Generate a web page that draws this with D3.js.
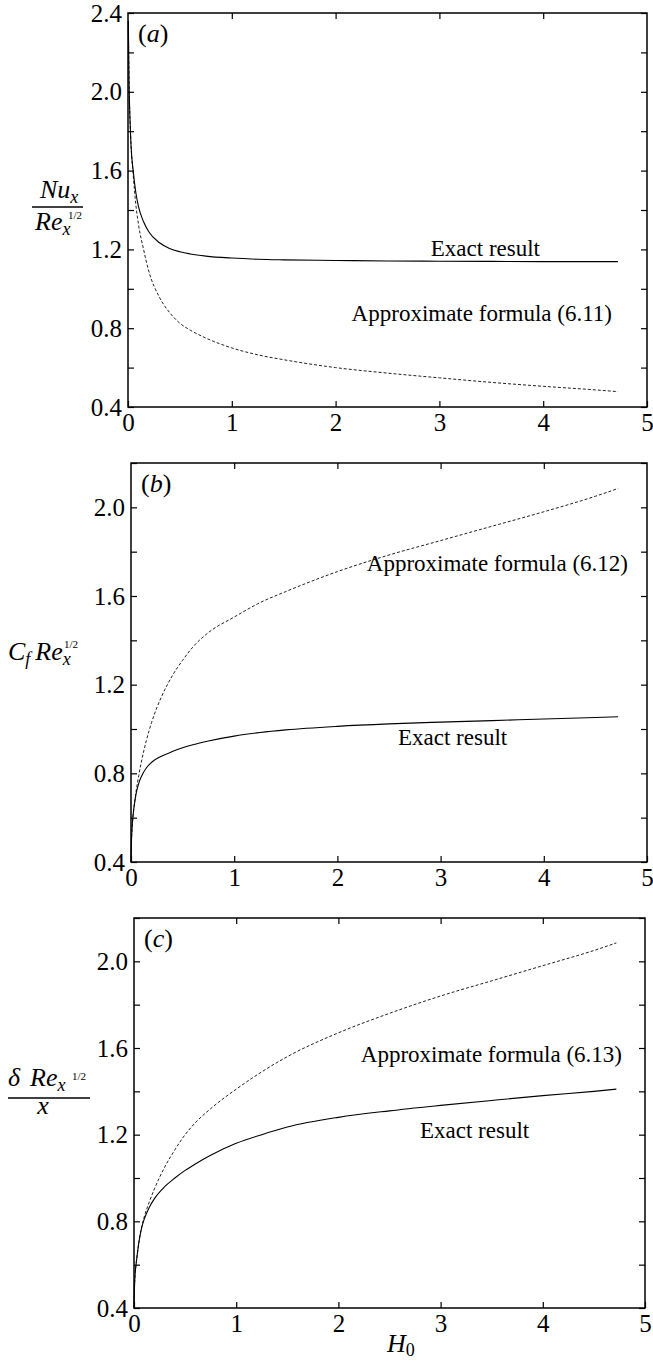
<!DOCTYPE html>
<html>
<head>
<meta charset="utf-8">
<script src="https://cdn.jsdelivr.net/npm/d3@7"></script>
<style>
  html, body { margin: 0; padding: 0; background: #fff; }
  svg { display: block; }
  text { font-family: "Liberation Serif", "Times New Roman", "DejaVu Serif", serif; fill: #000; }
</style>
</head>
<body>
<svg id="chart" width="653" height="1363"></svg>
<script>
// ---------------- data ----------------
const X_TICKS = [0, 1, 2, 3, 4, 5];

// panel (a): Nu_x / Re_x^{1/2}
const H_A =       [0.003, 0.01, 0.02, 0.03, 0.05, 0.075, 0.1, 0.15, 0.2, 0.3, 0.4, 0.5, 0.6, 0.75, 1.0, 1.25, 1.5, 2.0, 2.5, 3.0, 3.5, 4.0, 4.5, 4.72];
const NU_EXACT =  [2.36, 2.05, 1.85, 1.72, 1.60, 1.49, 1.42, 1.34, 1.29, 1.235, 1.205, 1.188, 1.177, 1.166, 1.156, 1.150, 1.147, 1.144, 1.141, 1.140, 1.139, 1.138, 1.138, 1.138];
const NU_APPROX = [2.36, 2.05, 1.85, 1.72, 1.58, 1.43, 1.33, 1.20, 1.09, 0.96, 0.88, 0.825, 0.79, 0.75, 0.70, 0.665, 0.64, 0.60, 0.572, 0.548, 0.525, 0.505, 0.487, 0.478];
const Y_LABELS_A = [0.4, 0.8, 1.2, 1.6, 2.0, 2.4];

// panels (b) and (c)
const H_BC =         [0, 0.005, 0.01, 0.02, 0.03, 0.05, 0.075, 0.1, 0.15, 0.2, 0.3, 0.4, 0.5, 0.6, 0.75, 1.0, 1.25, 1.5, 2.0, 2.5, 3.0, 3.5, 4.0, 4.5, 4.72];
const CF_EXACT =     [0.4, 0.5, 0.55, 0.61, 0.65, 0.71, 0.755, 0.785, 0.825, 0.85, 0.878, 0.898, 0.915, 0.929, 0.946, 0.968, 0.984, 0.996, 1.012, 1.023, 1.031, 1.038, 1.045, 1.052, 1.055];
const CF_APPROX =    [0.4, 0.5, 0.55, 0.61, 0.65, 0.72, 0.79, 0.85, 0.95, 1.03, 1.15, 1.24, 1.31, 1.37, 1.435, 1.505, 1.57, 1.62, 1.71, 1.785, 1.85, 1.915, 1.98, 2.05, 2.085];
const DELTA_EXACT =  [0.4, 0.5, 0.55, 0.6, 0.64, 0.71, 0.77, 0.81, 0.865, 0.905, 0.96, 1.0, 1.035, 1.065, 1.105, 1.16, 1.20, 1.235, 1.28, 1.31, 1.335, 1.358, 1.38, 1.40, 1.41];
const DELTA_APPROX = [0.4, 0.5, 0.55, 0.6, 0.64, 0.71, 0.775, 0.82, 0.89, 0.95, 1.05, 1.13, 1.20, 1.255, 1.32, 1.41, 1.49, 1.56, 1.67, 1.76, 1.84, 1.91, 1.98, 2.05, 2.085];
const Y_LABELS_BC = [0.4, 0.8, 1.2, 1.6, 2.0];

// ---------------- drawing ----------------
const svg = d3.select("#chart");
const FS = 25;

const panels = [
  { id: "a", left: 128, right: 647, top: 13, bottom: 407, yMax: 2.4,
    h: H_A, exact: NU_EXACT, approx: NU_APPROX, labels: Y_LABELS_A,
    exactLbl: { text: "Exact result", x: 540, y: 256, anchor: "end" },
    approxLbl: { text: "Approximate formula (6.11)", x: 612, y: 321, anchor: "end" } },
  { id: "b", left: 131, right: 647, top: 463, bottom: 862, yMax: 2.2,
    h: H_BC, exact: CF_EXACT, approx: CF_APPROX, labels: Y_LABELS_BC,
    exactLbl: { text: "Exact result", x: 398, y: 745, anchor: "start" },
    approxLbl: { text: "Approximate formula (6.12)", x: 628, y: 571, anchor: "end" } },
  { id: "c", left: 134, right: 645, top: 918, bottom: 1308, yMax: 2.2,
    h: H_BC, exact: DELTA_EXACT, approx: DELTA_APPROX, labels: Y_LABELS_BC,
    exactLbl: { text: "Exact result", x: 420, y: 1138, anchor: "start" },
    approxLbl: { text: "Approximate formula (6.13)", x: 622, y: 1062, anchor: "end" } }
];

panels.forEach(p => {
  const x = d3.scaleLinear().domain([0, 5]).range([p.left, p.right]);
  const y = d3.scaleLinear().domain([0.4, p.yMax]).range([p.bottom, p.top]);
  const g = svg.append("g");

  const minor = d3.range(4, Math.round(p.yMax * 10) + 1, 2).map(v => v / 10);
  const labelSet = new Set(p.labels.map(v => Math.round(v * 10)));
  const fmt = d => labelSet.has(Math.round(d * 10)) ? d3.format(".1f")(d) : "";

  const gl = g.append("g").attr("transform", `translate(${p.left},0)`)
    .call(d3.axisLeft(y).tickValues(minor).tickSize(-6).tickSizeOuter(0).tickPadding(6).tickFormat(fmt));
  const gr = g.append("g").attr("transform", `translate(${p.right},0)`)
    .call(d3.axisRight(y).tickValues(minor).tickSize(-6).tickSizeOuter(0).tickFormat(""));
  const gb = g.append("g").attr("transform", `translate(0,${p.bottom})`)
    .call(d3.axisBottom(x).tickValues(X_TICKS).tickSize(-6).tickSizeOuter(0).tickPadding(6).tickFormat(d3.format("d")));
  const gt = g.append("g").attr("transform", `translate(0,${p.top})`)
    .call(d3.axisTop(x).tickValues(X_TICKS.slice(1, -1)).tickSize(-6).tickSizeOuter(0).tickFormat(""));

  [gl, gr, gb, gt].forEach(a => {
    a.attr("font-family", null);
    a.select(".domain").remove();
    a.selectAll("line").attr("stroke", "#000").attr("stroke-width", 1.2);
    a.selectAll("text").attr("font-size", FS).style("font-family", '"Liberation Serif", "Times New Roman", serif').attr("fill", "#000");
  });

  g.append("rect").attr("x", p.left).attr("y", p.top)
    .attr("width", p.right - p.left).attr("height", p.bottom - p.top)
    .attr("fill", "none").attr("stroke", "#000").attr("stroke-width", 1.5);

  const line = d3.line().x((d, i) => x(p.h[i])).y(d => y(d)).curve(d3.curveMonotoneX);

  g.append("path").datum(p.approx).attr("d", line)
    .attr("fill", "none").attr("stroke", "#222").attr("stroke-width", 1)
    .attr("stroke-dasharray", "3,2");
  g.append("path").datum(p.exact).attr("d", line)
    .attr("fill", "none").attr("stroke", "#000").attr("stroke-width", 1.1);

  [p.exactLbl, p.approxLbl].forEach(l => {
    g.append("text").attr("x", l.x).attr("y", l.y).attr("text-anchor", l.anchor)
      .attr("font-size", 23).text(l.text);
  });

  const pl = g.append("text").attr("x", p.left + 10).attr("y", p.top + 29).attr("font-size", 26);
  pl.append("tspan").text("(");
  pl.append("tspan").attr("font-style", "italic").text(p.id);
  pl.append("tspan").text(")");
});

// ---------- axis titles ----------
const LF = 26, SF = 18, TF = 11;
{
  const t1 = svg.append("text").attr("x", 40).attr("y", 198).attr("font-size", LF).attr("font-style", "italic");
  t1.append("tspan").text("Nu");
  t1.append("tspan").attr("font-size", SF).attr("dy", 5).text("x");
  svg.append("line").attr("x1", 32).attr("x2", 83).attr("y1", 207).attr("y2", 207)
    .attr("stroke", "#000").attr("stroke-width", 1.3);
  const t2 = svg.append("text").attr("x", 35).attr("y", 230).attr("font-size", LF).attr("font-style", "italic");
  t2.append("tspan").text("Re");
  t2.append("tspan").attr("font-size", SF).attr("dy", 5).text("x");
  svg.append("text").attr("x", 68).attr("y", 219).attr("font-size", TF).text("1/2");
}
{
  const t = svg.append("text").attr("x", 8).attr("y", 660).attr("font-size", LF).attr("font-style", "italic");
  t.append("tspan").text("C");
  t.append("tspan").attr("font-size", SF).attr("dy", 5).text("f");
  t.append("tspan").attr("dy", -5).attr("dx", 5).text("Re");
  t.append("tspan").attr("font-size", SF).attr("dy", 5).text("x");
  svg.append("text").attr("x", 64).attr("y", 648).attr("font-size", TF).text("1/2");
}
{
  const t = svg.append("text").attr("x", 8).attr("y", 1086).attr("font-size", LF).attr("font-style", "italic");
  t.append("tspan").text("δ");
  t.append("tspan").attr("dx", 10).text("Re");
  t.append("tspan").attr("font-size", SF).attr("dy", 5).text("x");
  svg.append("text").attr("x", 72).attr("y", 1080).attr("font-size", TF).text("1/2");
  svg.append("line").attr("x1", 8).attr("x2", 90).attr("y1", 1098).attr("y2", 1098)
    .attr("stroke", "#000").attr("stroke-width", 1.3);
  svg.append("text").attr("x", 43).attr("y", 1114).attr("font-size", LF).attr("font-style", "italic")
    .attr("text-anchor", "middle").text("x");
}
{
  const t = svg.append("text").attr("x", 387).attr("y", 1352).attr("font-size", LF).attr("font-style", "italic");
  t.append("tspan").text("H");
  t.append("tspan").attr("font-style", "normal").attr("font-size", SF).attr("dy", 4).text("0");
}
</script>
</body>
</html>
